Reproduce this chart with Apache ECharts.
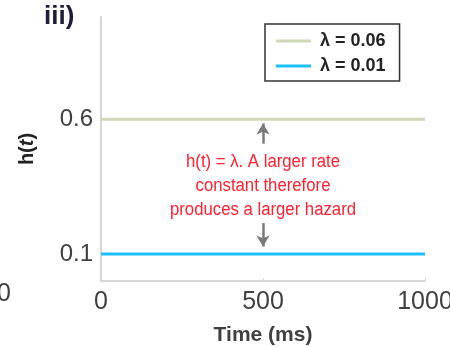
<!DOCTYPE html>
<html>
<head>
<meta charset="utf-8">
<script src="https://cdn.jsdelivr.net/npm/echarts@6/dist/echarts.min.js"></script>
<style>
  html, body { margin: 0; padding: 0; background: #fff; }
  #chart { width: 450px; height: 347px; }
</style>
</head>
<body>
<div id="chart"></div>
<script>
// Constant hazard functions h(t) = λ for two rate constants
const timeMs = [0, 1000];
const hazardHigh = [0.6, 0.6];   // λ = 0.06
const hazardLow = [0.1, 0.1];    // λ = 0.01
const seriesNames = ['λ = 0.06', 'λ = 0.01'];
const xTicks = [0, 500, 1000];
const yTicks = [0.1, 0.6];
const arrowUp = [[500, 0.51], [500, 0.585]];
const arrowDown = [[500, 0.215], [500, 0.128]];
const noteLines = ['h(t) = λ. A larger rate', 'constant therefore', 'produces a larger hazard'];

const chart = echarts.init(document.getElementById('chart'), null, { renderer: 'canvas' });

const pair = (xs, ys) => xs.map((x, i) => [x, ys[i]]);
const axisGray = '#d6d6d6';
const textGray = '#404040';

chart.setOption({
  animation: false,
  grid: { left: 101, right: 25, top: 17, bottom: 66, outerBoundsMode: 'none', containLabel: false },
  legend: {
    orient: 'vertical',
    left: 265,
    top: 24,
    padding: [8, 14, 6, 11],
    itemGap: 7,
    itemWidth: 35,
    itemHeight: 3,
    icon: 'rect',
    borderColor: '#333',
    borderWidth: 1.5,
    backgroundColor: '#fff',
    textStyle: { fontFamily: 'Liberation Sans', fontWeight: 'bold', fontSize: 18, color: '#222', padding: [0, 0, 0, 4] },
    data: seriesNames
  },
  xAxis: {
    type: 'value',
    min: 0,
    max: 1000,
    interval: 500,
    name: 'Time (ms)',
    nameLocation: 'middle',
    nameGap: 44,
    nameTextStyle: { fontFamily: 'Liberation Sans', fontWeight: 'bold', fontSize: 21, color: textGray },
    axisLine: { show: true, lineStyle: { color: axisGray, width: 2 } },
    axisTick: { show: true, inside: true, length: 3, lineStyle: { color: axisGray } },
    axisLabel: {
      customValues: xTicks,
      formatter: (v) => String(v),
      fontFamily: 'Liberation Sans', fontSize: 25, color: textGray, margin: 9
    },
    splitLine: { show: false }
  },
  yAxis: {
    type: 'value',
    min: 0,
    max: 0.98,
    name: '{n|h(}{i|t}{n|)}',
    nameLocation: 'middle',
    nameRotate: 90,
    nameGap: 64,
    nameTextStyle: {
      rich: {
        n: { fontFamily: 'Liberation Sans', fontWeight: 'bold', fontSize: 20, color: '#222' },
        i: { fontFamily: 'Liberation Sans', fontWeight: 'bold', fontStyle: 'italic', fontSize: 20, color: '#222' }
      }
    },
    axisLine: { show: true, lineStyle: { color: axisGray, width: 2 } },
    axisTick: { show: false },
    axisLabel: { customValues: yTicks, fontFamily: 'Liberation Sans', fontSize: 24, color: textGray, margin: 8 },
    splitLine: { show: false }
  },
  series: [
    {
      name: seriesNames[0],
      type: 'line',
      data: pair(timeMs, hazardHigh),
      showSymbol: false,
      lineStyle: { color: '#cfd8b8', width: 3 },
      itemStyle: { color: '#cfd8b8' },
      z: 3
    },
    {
      name: seriesNames[1],
      type: 'line',
      data: pair(timeMs, hazardLow),
      showSymbol: false,
      lineStyle: { color: '#1cbff8', width: 3 },
      itemStyle: { color: '#1cbff8' },
      z: 3,
      markLine: {
        silent: true,
        symbol: ['none', 'arrow'],
        symbolSize: [10, 11],
        label: { show: false },
        lineStyle: { color: '#7a7a7a', width: 2.5, type: 'solid' },
        data: [
          [{ coord: arrowUp[0] }, { coord: arrowUp[1] }],
          [{ coord: arrowDown[0] }, { coord: arrowDown[1] }]
        ]
      }
    }
  ],
  graphic: [
    {
      type: 'text',
      left: 44,
      top: 4,
      style: { text: 'iii)', fontFamily: 'Liberation Sans', fontWeight: 'bold', fontSize: 26, fill: '#1e1e3a' }
    },
    {
      type: 'text',
      left: -3,
      top: 282,
      style: { text: '0', fontFamily: 'Liberation Sans', fontSize: 25, fill: textGray }
    },
    {
      type: 'text',
      x: 263,
      y: 150,
      scaleX: 0.93,
      style: {
        text: noteLines.join('\n'),
        align: 'center',
        verticalAlign: 'top',
        lineHeight: 24,
        fontFamily: 'Liberation Sans',
        fontSize: 18,
        fill: '#ff2030'
      },
      z: 10
    }
  ]
});
</script>
</body>
</html>
